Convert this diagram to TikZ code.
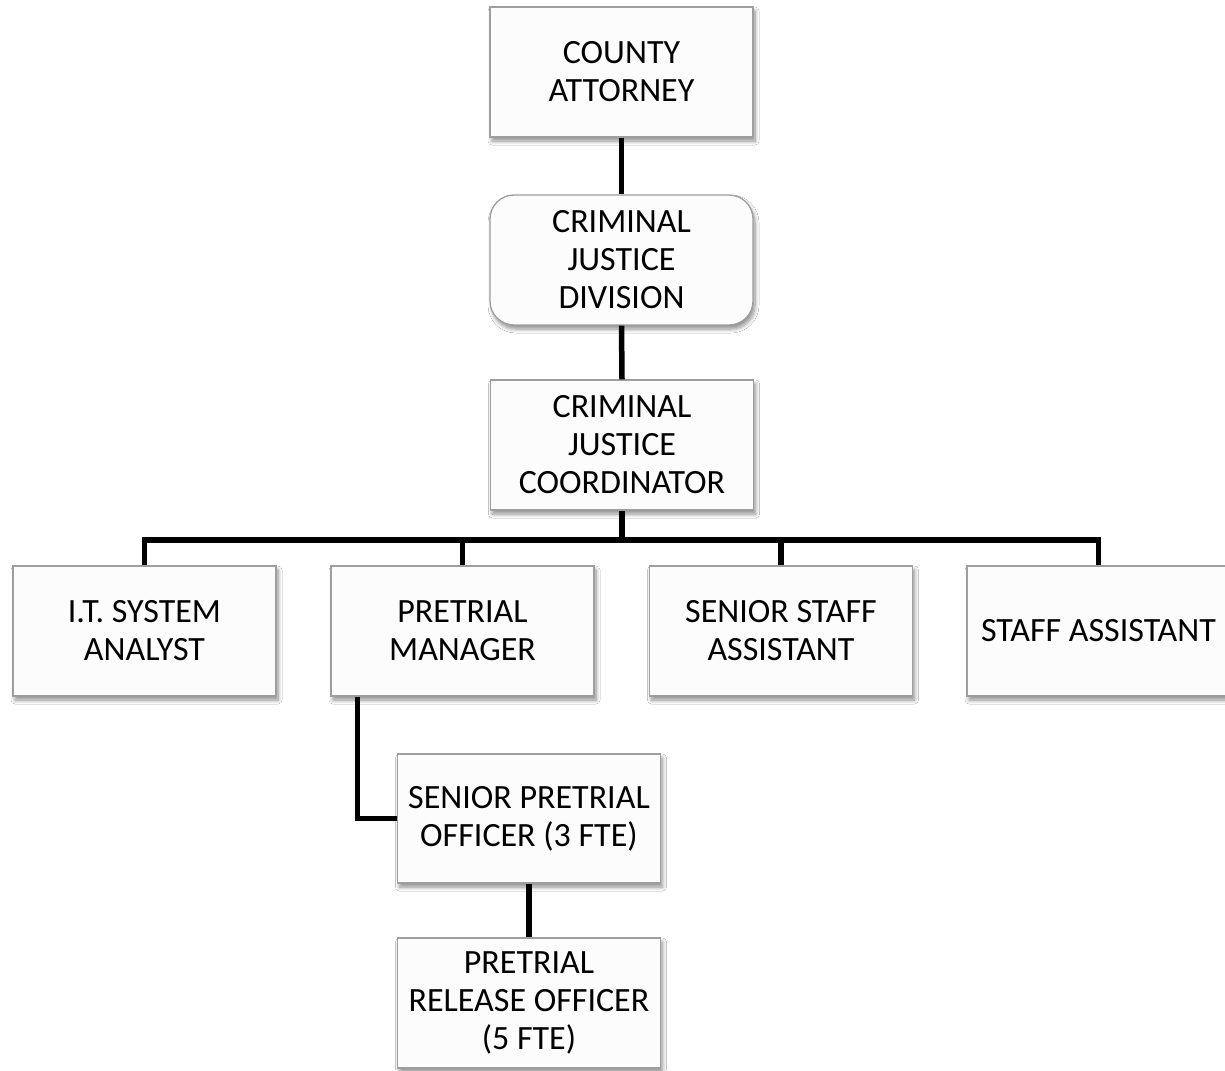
\documentclass[tikz,border=0pt]{standalone}
\usepackage{fontspec}
\setmainfont{Carlito}
\usetikzlibrary{shadows.blur}
\begin{document}
\begin{tikzpicture}[x=1pt,y=-1pt,
  box/.style={draw=black!38, line width=1.3pt, fill=white!99!black,
    minimum width=263pt, minimum height=130pt, inner sep=0pt,
    align=center, font=\fontsize{34}{38}\selectfont,
    blur shadow={shadow xshift=2pt, shadow yshift=-4pt, shadow blur steps=8,
      shadow blur radius=4pt, shadow opacity=45}},
  roundbox/.style={box, rounded corners=24pt},
  link/.style={line width=5.5pt, draw=black, line join=miter}]
  \clip (0,0) rectangle (1225,1070);
  \fill[white] (0,0) rectangle (1225,1070);

  % top of the chain
  \node[box]      (ca)  at (621.5,72)  {COUNTY\\ATTORNEY};
  \node[roundbox] (cjd) at (621.5,260) {CRIMINAL\\JUSTICE\\DIVISION};
  \node[box]      (cjc) at (622,445)   {CRIMINAL\\JUSTICE\\COORDINATOR};

  % second row
  \node[box] (it)  at (144.5,631) {I.T. SYSTEM\\ANALYST};
  \node[box] (pm)  at (462.5,631) {PRETRIAL\\MANAGER};
  \node[box] (ssa) at (781,631)   {SENIOR STAFF\\ASSISTANT};
  \node[box] (sa)  at (1098.5,631) {STAFF ASSISTANT};

  % pretrial officers
  \node[box, minimum height=129pt] (spo) at (529,818.5) {SENIOR PRETRIAL\\OFFICER (3 FTE)};
  \node[box] (pro) at (529,1003) {PRETRIAL\\RELEASE OFFICER\\(5 FTE)};

  \coordinate (bus) at (0,540);

  % connectors
  \draw[link] (ca.south) -- (cjd.north);
  \draw[link] (cjd.south) -- (cjc.north);
  \draw[link] (cjc.south) -- (cjc.south |- bus);
  \draw[link] (it.north) -- (it.north |- bus) -- (sa.north |- bus) -- (sa.north);
  \draw[link] (pm.north) -- (pm.north |- bus);
  \draw[link] (ssa.north) -- (ssa.north |- bus);
  \draw[link] ([xshift=27pt]pm.south west) |- (spo.west);
  \draw[link] (spo.south) -- (pro.north);
\end{tikzpicture}
\end{document}
